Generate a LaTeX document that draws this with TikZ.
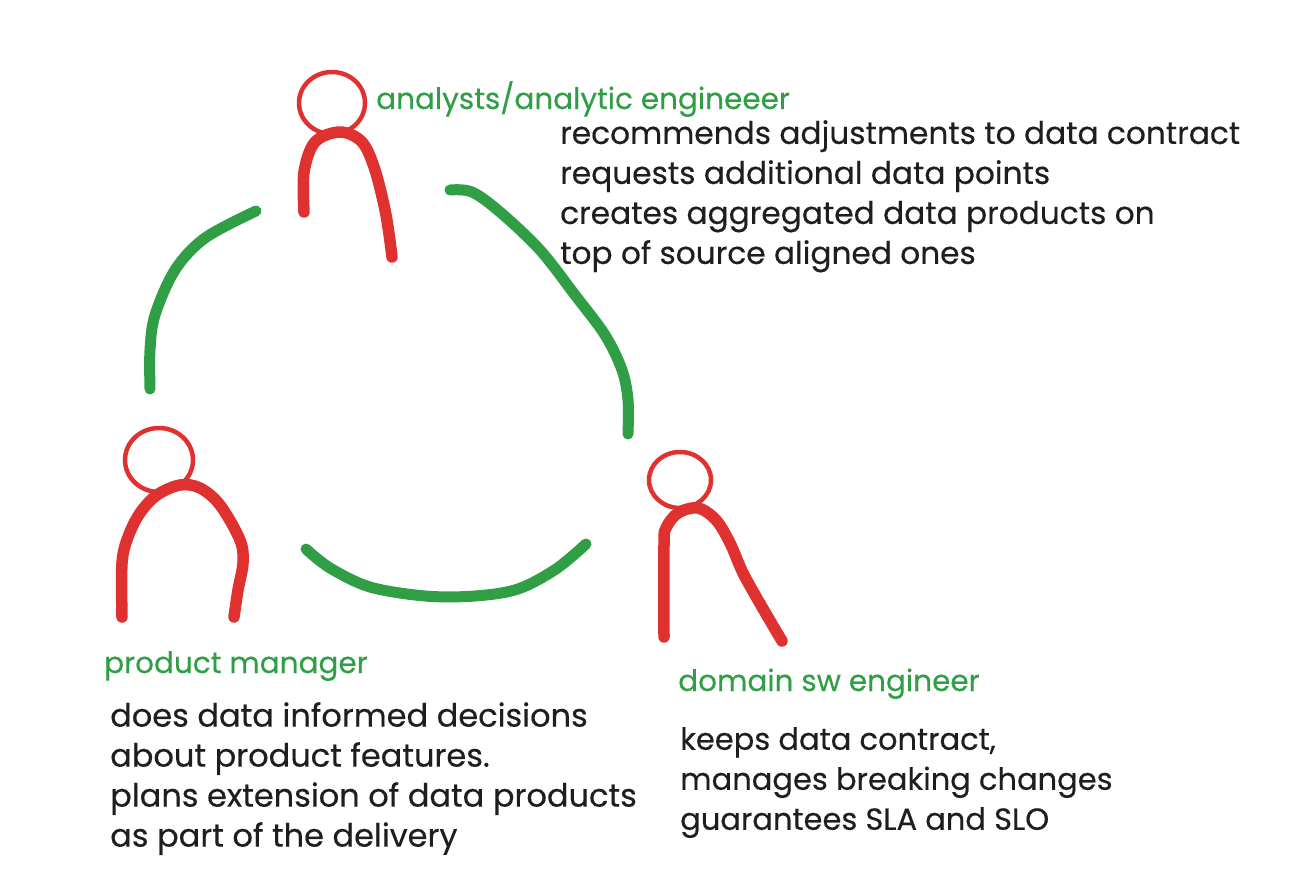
\documentclass[tikz,border=0pt]{standalone}
\usepackage{fontspec}
\setmainfont[FakeBold=0.35]{Poppins}
\definecolor{figRed}{HTML}{E03131}
\definecolor{figGreen}{HTML}{2F9E44}
\definecolor{figInk}{HTML}{1E1E1E}
\tikzset{
	head/.style={draw=figRed, line width=4.5pt},
	body/.style={draw=figRed, line width=11.5pt, line cap=round, line join=round},
	link/.style={draw=figGreen, line width=11pt, line cap=round, line join=round},
	role/.style={text=figGreen, font=\fontsize{29.5}{29.5}\selectfont, anchor=base west, inner sep=0pt},
	duty/.style={text=figInk, font=\fontsize{#1}{40}\selectfont, anchor=north west, inner sep=0pt, align=left},
}
\newcommand{\personHead}[5]{
	\draw[head] (#2,#3) ellipse[x radius=#4, y radius=#5];
	\coordinate (#1) at (#2,#3);
}
\newcommand{\sketchLine}[2]{
	\draw[#1] plot[smooth, tension=0.55] coordinates {#2};
}
\begin{document}
\begin{tikzpicture}[x=1pt, y=-1pt]
	\useasboundingbox (0,0) rectangle (1289,888);

	\personHead{analystHead}{332}{103}{33}{31};
	\personHead{managerHead}{159}{460}{34}{32};
	\personHead{engineerHead}{680}{480}{31}{28};

	\sketchLine{body}{(304,212) (304,172) (315,142) (340,132) (362,142) (375,170) (386,215) (392,257)};
	\sketchLine{body}{(122,617) (122,563) (128,537) (140,513) (157,495) (180,485) (200,488) (220,505) (240,540) (243,563) (238,590) (234,617)};
	\sketchLine{body}{(664,637) (664,545) (666,528) (678,513) (698,508) (716,520) (730,543) (743,573) (762,607) (782,641)};

	\sketchLine{link}{(256,211) (205,238) (175,270) (155,315) (150,350) (150,389)};
	\sketchLine{link}{(450,190) (472,192) (500,212) (540,250) (575,295) (605,335) (622,370) (628,400) (628,434)};
	\sketchLine{link}{(306,549) (330,568) (370,587) (425,596) (475,596) (518,589) (556,569) (586,544)};

	\node[role] (analystRole) at (376,109) {analysts/analytic engineeer};
	\node[role] (managerRole) at (104,673) {product manager};
	\node[role] (engineerRole) at (678,691) {domain sw engineer};

	\node[duty=31.2] (analystDuty) at (560,120) {recommends adjustments to data contract\\requests additional data points\\creates aggregated data products on\\top of source aligned ones};
	\node[duty=32] (managerDuty) at (110,702) {does data informed decisions\\about product features.\\plans extension of data products\\as part of the delivery};
	\node[duty=30.5] (engineerDuty) at (680,727) {keeps data contract,\\manages breaking changes\\guarantees SLA and SLO};
\end{tikzpicture}
\end{document}
